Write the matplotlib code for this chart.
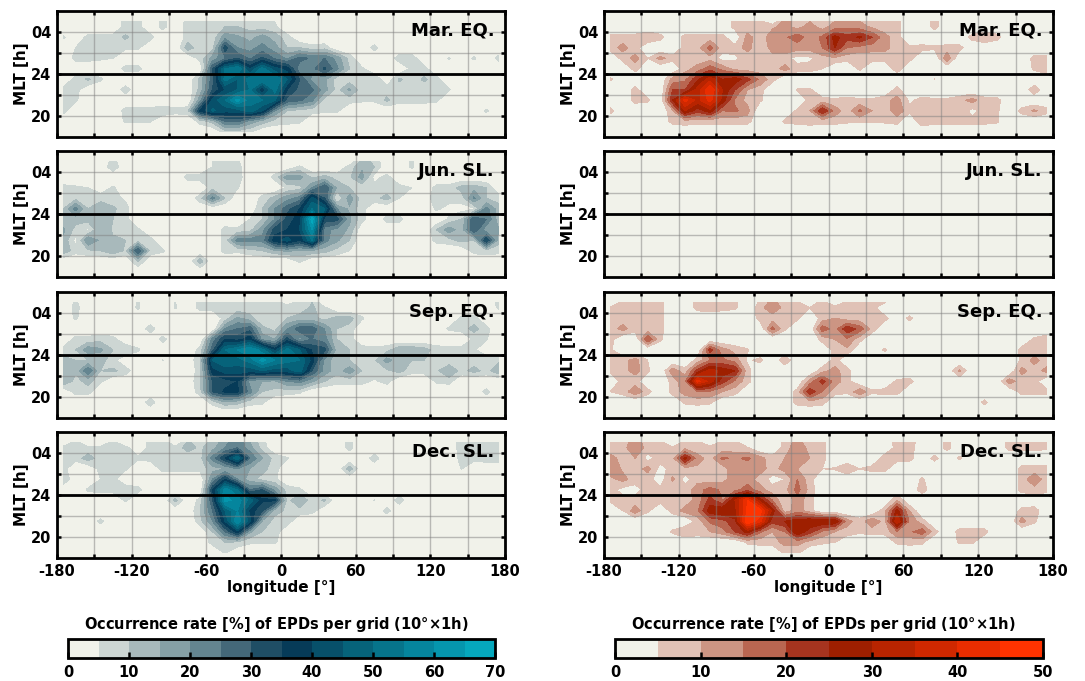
import numpy as np
import matplotlib
matplotlib.use("Agg")
import matplotlib.pyplot as plt
from matplotlib.colors import ListedColormap, BoundaryNorm
from matplotlib.cm import ScalarMappable

plt.rcParams["font.family"] = "DejaVu Sans"
plt.rcParams["font.weight"] = "bold"

lon = np.arange(-175, 180, 10)
# rows go from the top of the panel to the bottom
mlt = [29.0, 28.5, 27.5, 26.5, 25.5, 24.5, 23.5, 22.5, 21.5, 20.5, 19.5, 18.5]

mar_left = [
    [0,0,0,0,0,7, 7,0,7,0,7,7, 7,7,7,7,7,5, 0,0,0,0,0,0, 0,0,0,0,0,0, 0,0,0,0,0,0],
    [0,0,0,0,0,7, 7,0,7,0,8,8, 8,10,10,8,8,6, 0,0,0,0,0,0, 0,0,0,0,0,0, 0,0,0,0,0,0],
    [6,0,7,7,7,11, 7,7,0,0,7,7, 7,18,16,13,17,13, 7,0,0,0,0,0, 0,0,0,0,0,0, 0,0,0,0,0,0],
    [0,5,7,7,6,6, 6,0,0,0,13,7, 8,33,20,18,22,17, 10,10,7,8,0,0, 0,7,0,0,0,0, 0,0,0,0,0,0],
    [0,7,7,6,5,0, 0,0,0,0,0,7, 17,24,30,24,31,24, 19,27,24,25,18,8, 0,0,0,8,8,0, 0,5.5,0,6,0,7],
    [0,0,0,0,0,7, 7,0,0,0,0,0, 30,50,55,40,52,42, 38,21,23,31,21,10, 6,0,0,0,6,7, 0,0,0,0,0,0],
    [0,7,11,6,0,0, 0,0,0,0,0,12, 28,52,45,52,55,55, 45,30,18,16,7,7, 7,10,0,11,7,11, 7,0,0,0,0,0],
    [7,7,0,0,0,8, 0,0,0,0,0,12, 30,40,45,50,35,52, 35,28,26,17,8,16, 7,7,8,7,7,7, 9,5.5,0,0,0,0],
    [6,6,0,0,0,0, 0,0,0,0,0,18, 42,50,62,52,50,46, 28,26,21,8,8,7, 6,6,11,7,7,7, 6,0,0,0,0,0],
    [7,0,0,0,0,7, 7,7,9,7,8,36, 46,42,42,48,40,20, 10,8,7,6,6,0, 0,0,0,0,0,0, 0,0,0,0,6,0],
    [0,0,0,0,0,6, 6,5.5,0,0,0,7, 12,25,26,18,13,8, 7,6,0,0,0,0, 0,0,0,0,0,0, 0,0,0,0,0,0],
    [0,0,0,0,0,0, 0,0,0,0,0,0, 0,8,8,6,0,0, 0,0,0,0,0,0, 0,0,0,0,0,0, 0,0,0,0,0,0],
]

jun_left = [
    [0,0,0,0,7,0, 0,0,0,0,0,0, 5,7,6,0,0,0, 0,0,0,0,0,0, 12,9,0,0,6,0, 0,0,0,0,0,0],
    [0,0,0,0,9,0, 0,0,0,0,0,0, 5,7,7,0,0,0, 0,6,0,0,0,7, 14,10,0,0,6,0, 0,0,0,0,0,0],
    [0,0,0,0,0,0, 0,0,0,0,7,7, 6,8,8,0,0,7, 18,17,9,12,8,9, 17,3,7,0,0,0, 0,0,0,0,0,0],
    [7,6,5,0,6,0, 0,0,0,0,0,0, 8,7,5.5,0,0,0, 6,8,20,30,14,10, 6,7,7,7,5,0, 7,7,12,13,10,0],
    [7,8,10,9,7,4, 0,0,0,0,0,8, 22,10,0,0,7,12, 18,22,42,30,3,18, 7,8,12,5,0,0, 10,7,7,21,10,8],
    [10,22,10,12,11,7, 0,0,0,0,0,0, 0,0,0,0,10,20, 28,35,50,45,20,14, 7,0,0,0,0,0, 6,3,3,4,22,12],
    [12,12,12,15,10,7, 0,0,0,0,0,0, 0,0,0,5,10,20, 32,38,68,33,32,16, 7,0,7,7,0,0, 0,6,10,30,25,12],
    [16,8,4,15,9,10, 6,0,0,0,0,0, 0,7,6,8,18,32, 35,40,60,22,18,14, 0,0,0,0,0,0, 10,18,12,30,16,15],
    [14,3,20,14,11,10, 7,7,0,0,0,0, 0,7,22,22,22,38, 42,35,50,22,16,10, 0,0,0,0,0,0, 7,8,12,10,35,12],
    [14,7,9,10,14,9, 30,8,6,0,0,0, 0,7,6,8,10,14, 16,14,14,12,8,5, 0,0,0,0,0,0, 0,0,0,7,8,7],
    [0,0,0,0,0,0, 10,0,0,0,0,13, 0,0,0,0,0,0, 0,6,0,0,0,0, 0,0,0,0,0,0, 0,0,0,0,0,0],
    [0,0,0,0,0,0, 0,0,0,0,0,0, 0,0,0,0,0,0, 0,0,0,0,0,0, 0,0,0,0,0,0, 0,0,0,0,0,0],
]

sep_left = [
    [0,6,0,0,0,0, 5.5,0,0,5.2,0,7, 6,7,7,7,7,7, 3,7,10,0,0,0, 0,0,0,0,0,0, 0,0,0,0,0,7],
    [0,7,0,0,0,0, 6,0,0,5.5,0,7, 7,7,7,7,7,7, 7,7,11,6,0,0, 0,0,0,0,0,0, 0,0,0,0,0,6],
    [0,6,0,0,0,0, 0,0,0,0,0,0, 0,7,16,12,5,7, 10,12,12,8,12,12, 6,0,0,0,0,0, 0,0,6,7,0,0],
    [0,0,0,0,0,0, 0,8,0,0,0,0, 0,20,25,28,12,8, 20,28,28,20,10,8, 0,0,0,0,0,0, 0,6,7,12,7,0],
    [0,7,7,8,7,0, 0,0,7,0,0,0, 22,35,33,38,18,15, 32,18,25,22,10,7, 0,0,0,0,0,0, 0,0,0,6,5.5,0],
    [7,10,18,16,10,10, 6,0,0,0,0,7, 28,50,55,60,52,38, 52,45,34,32,12,10, 8,7,8,14,14,12, 8,7,7,6,0,0],
    [12,10,10,12,7,0, 0,0,5.2,0,0,10, 45,50,48,52,62,55, 52,50,38,18,12,10, 8,9,17,12,10,10, 6,6,7,7,9,9],
    [15,11,25,10,11,8, 0,0,0,0,0,8, 38,42,42,42,45,42, 42,48,30,18,12,18, 10,9,9,12,7,7, 9,15,8,12,8,14],
    [15,8,12,6,0,0, 0,0,0,0,0,10, 30,33,35,18,15,14, 20,22,16,10,7,7, 7,4,7,0,0,0, 6,7,0,0,0,0],
    [0,7,7,0,0,0, 0,0,0,0,0,8, 30,36,36,22,10,8, 7,6,0,0,0,0, 0,0,0,0,0,0, 0,0,0,0,7,0],
    [0,0,0,0,0,0, 0,8,0,0,0,0, 7,14,12,7,6,0, 0,0,0,0,0,0, 0,0,0,0,0,0, 0,0,0,0,0,0],
    [0,0,0,0,0,0, 0,0,0,0,0,0, 0,0,0,0,0,0, 0,0,0,0,0,0, 0,0,0,0,0,0, 0,0,0,0,0,0],
]

dec_left = [
    [0,7,0,0,7,0, 0,7,9,0,11,7, 12,18,25,15,7,0, 0,0,0,0,0,7, 0,0,0,0,0,0, 0,0,8,8,9,8],
    [7,7,6,7,7,7, 0,7,9,7,12,9, 13,20,25,17,8,0, 0,0,0,0,0,7, 0,0,0,0,0,0, 0,0,8,9,9,9],
    [10,7,13,7,7,7, 6,7,7,7,7,8, 22,35,50,25,15,8, 5.5,0,0,0,0,0, 0,8,0,0,0,0, 0,0,7,7,8,8],
    [7,0,0,7,7,6, 0,0,7,7,7,7, 13,15,20,15,12,7, 0,0,0,0,0,13, 0,0,0,0,0,0, 0,0,5.2,0,0,0],
    [10,0,0,5,7,0, 0,0,0,0,0,0, 20,35,20,12,8,6, 0,0,0,0,0,0, 0,0,0,0,0,0, 0,0,0,0,0,0],
    [0,0,6,7,7,9, 7,0,0,0,0,0, 35,58,50,25,30,18, 8,6,0,0,0,0, 0,0,0,0,0,0, 0,0,0,0,0,0],
    [0,0,0,0,0,6, 0,0,0,12,0,7, 30,62,58,48,36,36, 8,15,7,11,0,0, 0,5.2,0,8,0,0, 0,0,0,0,0,0],
    [0,0,0,0,0,0, 0,0,0,0,0,10, 25,45,55,38,30,12, 9,8,7,0,0,0, 0,0,7,0,0,0, 0,0,0,0,0,0],
    [0,0,0,6.5,0,0, 0,0,0,0,0,8, 20,40,60,42,14,8, 8,0,0,0,0,0, 0,0,0,0,0,0, 0,0,0,0,0,0],
    [0,0,0,0,0,0, 0,0,0,0,0,0, 10,25,38,16,10,8, 0,0,0,0,0,0, 0,0,0,0,0,0, 0,0,0,0,0,0],
    [0,0,0,0,0,0, 0,0,0,0,0,0, 7,10,9,6,6,6, 0,0,0,0,0,0, 0,0,0,0,0,0, 0,0,0,0,0,0],
    [0,0,0,0,0,0, 0,0,0,0,0,0, 0,5.5,0,0,0,0, 0,0,0,0,0,0, 0,0,0,0,0,0, 0,0,0,0,0,0],
]

mar_right = [
    [0,0,0,0,0,0, 0,0,0,0,7,7, 7,0,13,7,10,6, 10,14,10,9,7,7, 0,0,7,0,0,0, 0,0,0,0,0,0],
    [0,0,0,0,0,0, 0,0,0,0,7,7, 7,9,12,8,12,8, 12,14,12,9,7,7, 0,0,7,0,0,0, 0,0,0,0,0,0],
    [7,7,7,10,7,0, 7,7,7,7,0,12, 7,13,14,18,12,16, 27,22,26,20,12,7, 0,0,0,0,0,7, 10,7,0,0,0,0],
    [7,12,7,0,0,0, 7,8,17,7,7,12, 6,12,14,12,12,15, 25,15,13,12,12,7, 6,7,6,7,7,0, 0,0,0,0,0,0],
    [0,7,12,5,12,7, 7,7,8,3,4,7, 7,8,7,3,4,8, 9,7,6,7,7,8, 7,0,0,14,0,0, 0,0,0,0,7,7],
    [0,0,7,0,0,0, 8,12,18,13,8,7, 7,7,12,7,7,5, 0,0,6,0,0,8, 0,0,0,0,0,0, 0,0,0,0,6,9],
    [6,0,0,0,0,12, 14,24,33,25,28,22, 14,7,0,0,0,0, 0,0,0,0,0,0, 0,0,5.2,0,0,0, 0,0,0,0,0,0],
    [0,0,7,0,0,20, 20,32,45,30,20,10, 7,0,0,5.5,6,0, 0,0,0,0,0,7, 0,0,0,0,0,0, 0,0,0,0,9,0],
    [0,0,7,6,0,25, 42,33,42,28,14,8, 6,0,0,0,7,7, 6,7,6,6,8,12, 4,7,6,6,8,12, 7,7,0,0,0,0],
    [7,0,0,0,0,9, 30,22,28,15,16,12, 0,0,0,6,10,25, 13,7,16,10,6,14, 6,7,7,10,10,3, 7,6,0,7,11,7],
    [0,0,0,0,0,7, 8,7,7,7,7,7, 0,0,6,7,8,7, 7,6,6,6,6,7, 0,9,7,7,7,7, 7,6,0,0,0,0],
    [0,0,0,0,0,0, 0,0,0,0,0,0, 0,0,0,0,0,0, 0,0,0,0,0,0, 0,0,0,0,0,0, 0,0,0,0,0,0],
]

# no data drawn in the June panel
jun_right = [[0] * 36 for row in mlt]

sep_right = [
    [0,7,7,7,7,0, 0,7,7,7,6,0, 6,12,7,6,0,8, 0,7,8,7,5.5,0, 0,0,0,0,0,0, 0,0,0,0,0,0],
    [5.5,7,7,7,7,0, 0,7,8,7,6,0, 8,14,8,7,5,7, 7,7,8,7,0,0, 0,0,0,0,0,0, 0,0,0,0,0,0],
    [7,7,7,7,7,0, 0,0,0,0,0,0, 7,7,7,6,0,7, 10,7,7,8,7,0, 6.5,0,0,0,0,0, 0,0,0,0,0,0],
    [7,12,7,7,7,0, 0,0,0,0,0,0, 0,17,6,0,0,18, 13,24,18,8,0,0, 0,0,0,0,0,0, 0,0,0,0,0,0],
    [7,0,0,20,6,0, 0,0,0,0,0,0, 0,0,0,0,0,7, 10,14,7,0,0,0, 0,0,0,0,0,0, 0,0,0,0,6,8],
    [6,0,0,0,0,0, 0,0,22,12,8,5.5, 0,0,0,0,0,0, 7,9,0,0,6,0, 0,0,0,0,0,0, 0,0,0,7,7,8],
    [7,8,12,5,0,0, 0,7,15,16,13,4, 6.5,0,9,0,0,0, 7,0,0,0,0,0, 0,0,0,0,0,0, 0,0,0,6,12,7],
    [6,8,12,6,0,13, 7,22,33,28,25,7, 0,0,0,0,0,8, 12,7,0,0,0,0, 0,0,0,0,11,0, 0,0,0,12,7,12],
    [0,7,7,0,0,7, 14,42,33,22,14,7, 0,0,0,0,12,22, 13,7,0,0,0,6, 7,0,0,0,0,0, 0,0,13,7,7,0],
    [5,7,14,7,0,7, 12,15,14,10,7,0, 0,0,0,7,24,15, 7,6,14,6,7,7, 0,0,0,0,0,0, 0,0,0,7,7,7],
    [0,0,0,0,0,0, 6,7,6,0,0,0, 0,0,0,7,8,7, 0,0,0,0,0,0, 0,0,0,0,0,0, 6.5,0,0,0,0,0],
    [0,0,0,0,0,0, 0,0,0,0,0,0, 0,0,0,0,0,0, 0,0,0,0,0,0, 0,0,0,0,0,0, 0,0,0,0,0,0],
]

dec_right = [
    [6,7,13,7,7,0, 7,7,0,7,7,0, 0,0,7,12,7,7, 0,0,0,0,0,8, 9,0,0,7,0,0, 0,0,7,7,7,7],
    [7,8,14,8,7,6, 8,7,7,7,7,5.5, 0,0,7,14,8,7, 0,0,0,0,0,7, 8,0,0,7,0,0, 0,0,7,7,7,6],
    [12,8,10,3,7,8, 27,12,8,16,14,16, 12,7,10,11,10,7, 0,0,0,0,8,7, 7,0,7,0,6,0, 0,0,0,0,0,0],
    [15,9,7,12,3,7, 8,9,8,7,14,12, 12,8,12,10,9,5, 5.5,10,5,7,7,0, 0,0,0,0,0,0, 0,0,0,7,7,7],
    [8,12,7,7,2,11, 3,8,7,8,13,12, 8,3,5,15,7,0, 0,0,0,0,0,0, 0,6,0,0,0,0, 0,0,0,7,14,7],
    [7,3,3,7,6,6, 7,13,17,14,13,18, 12,7,8,17,8,0, 0,0,0,0,0,0, 0,8,0,0,0,0, 0,0,0,7,8,7],
    [6,7,7,7,7,7, 7,12,22,15,30,45, 28,15,5,13,7,0, 0,0,0,0,0,10, 0,0,0,0,0,0, 0,0,0,0,0,0],
    [0,5,13,6,0,7, 12,14,28,30,28,46, 48,28,7,13,7,0, 0,0,0,0,8,27, 10,0,0,0,0,0, 0,0,0,7,8,0],
    [0,0,0,0,0,0, 0,7,16,18,24,50, 42,22,25,28,30,30, 30,12,7,14,8,35, 14,7,0,0,0,0, 0,0,0,12,6,0],
    [0,0,0,0,0,6, 10,8,10,13,20,27, 16,10,15,30,22,14, 10,8,6,7,7,14, 14,18,7,0,7,7, 7,0,0,0,0,0],
    [0,0,0,0,0,0, 0,0,0,0,0,6, 7,7,12,12,8,6, 5,0,0,0,0,6, 7,6,0,0,6,6, 0,0,0,0,0,0],
    [0,0,0,0,0,0, 0,0,0,0,0,0, 0,0,6,6,0,0, 0,0,0,0,0,0, 0,0,0,0,0,0, 0,0,0,0,0,0],
]

season_labels = ["Mar. EQ.", "Jun. SL.", "Sep. EQ.", "Dec. SL."]
left_panels = [mar_left, jun_left, sep_left, dec_left]
right_panels = [mar_right, jun_right, sep_right, dec_right]

blue_colors = ["#f1f2ea", "#cdd6d3", "#a8b9bb", "#86a0a6", "#648590", "#446879", "#1f4e65",
               "#063b58", "#07506a", "#06637a", "#06748b", "#05859d", "#0596ad", "#05a8bd"]
red_colors = ["#f1f2ea", "#e0c2b6", "#cc9583", "#b96651", "#a6341f",
              "#9e1f00", "#b82400", "#d02800", "#e92d00", "#ff3300"]
blue_levels = np.arange(0, 75, 5)
red_levels = np.arange(0, 55, 5)
xtick_major = np.arange(-180, 181, 30)
xtick_labels = ["-180", "", "-120", "", "-60", "", "0", "", "60", "", "120", "", "180"]
ytick_major = [20, 22, 24, 26, 28]
ytick_labels = ["20", "", "24", "", "04"]
cbar_title = "Occurrence rate [%] of EPDs per grid (10°$\\mathbf{\\times}$1h)"

W, H = 1085, 681
fig = plt.figure(figsize=(W / 100, H / 100), dpi=100)


def px_axes(x0, y0, x1, y1):
    return fig.add_axes([x0 / W, 1 - y1 / H, (x1 - x0) / W, (y1 - y0) / H])


def draw_column(panels, colors, levels, x0, x1):
    cmap = ListedColormap(colors)
    norm = BoundaryNorm(levels, cmap.N)
    tops = [11, 151, 292, 432]
    for i, panel in enumerate(panels):
        ax = px_axes(x0, tops[i], x1, tops[i] + 126)
        ax.set_facecolor(colors[0])
        ax.contourf(lon, mlt, np.array(panel), levels=levels, cmap=cmap, norm=norm)
        ax.set_xlim(-180, 180)
        ax.set_ylim(18, 30)
        ax.set_xticks(xtick_major)
        ax.set_yticks(ytick_major)
        ax.set_yticklabels(ytick_labels, fontsize=10.5, fontweight="bold")
        if i == 3:
            ax.set_xticklabels(xtick_labels, fontsize=10.5, fontweight="bold")
            ax.set_xlabel("longitude [°]", fontsize=11, fontweight="bold", labelpad=1)
        else:
            ax.set_xticklabels([])
        ax.set_ylabel("MLT [h]", fontsize=11, fontweight="bold", labelpad=1.5)
        ax.grid(color="#808080", alpha=0.5, linewidth=1)
        ax.tick_params(direction="in", top=True, right=True, width=1.8, length=3, pad=4)
        ax.axhline(24, color="black", linewidth=2)
        ax.text(0.977, 0.845, season_labels[i], transform=ax.transAxes, ha="right", va="center",
                fontsize=13, fontweight="bold")
        for s in ax.spines.values():
            s.set_linewidth(2)
    cax = px_axes(x0 + 11, 639, x1 - 10, 658)
    cb = fig.colorbar(ScalarMappable(norm=norm, cmap=cmap), cax=cax, orientation="horizontal",
                      spacing="proportional", ticks=np.arange(0, levels[-1] + 1, 10))
    cb.ax.tick_params(direction="in", width=1.8, length=4, labelsize=10.5, pad=5)
    cb.outline.set_linewidth(2)
    cb.ax.minorticks_off()
    fig.text((x0 + x1 - 10) / 2 / W, 1 - 624 / H, cbar_title, ha="center", va="center",
             fontsize=10.5, fontweight="bold")


draw_column(left_panels, blue_colors, blue_levels, 57, 505)
draw_column(right_panels, red_colors, red_levels, 604, 1053)

plt.savefig("out.png", dpi=100)
